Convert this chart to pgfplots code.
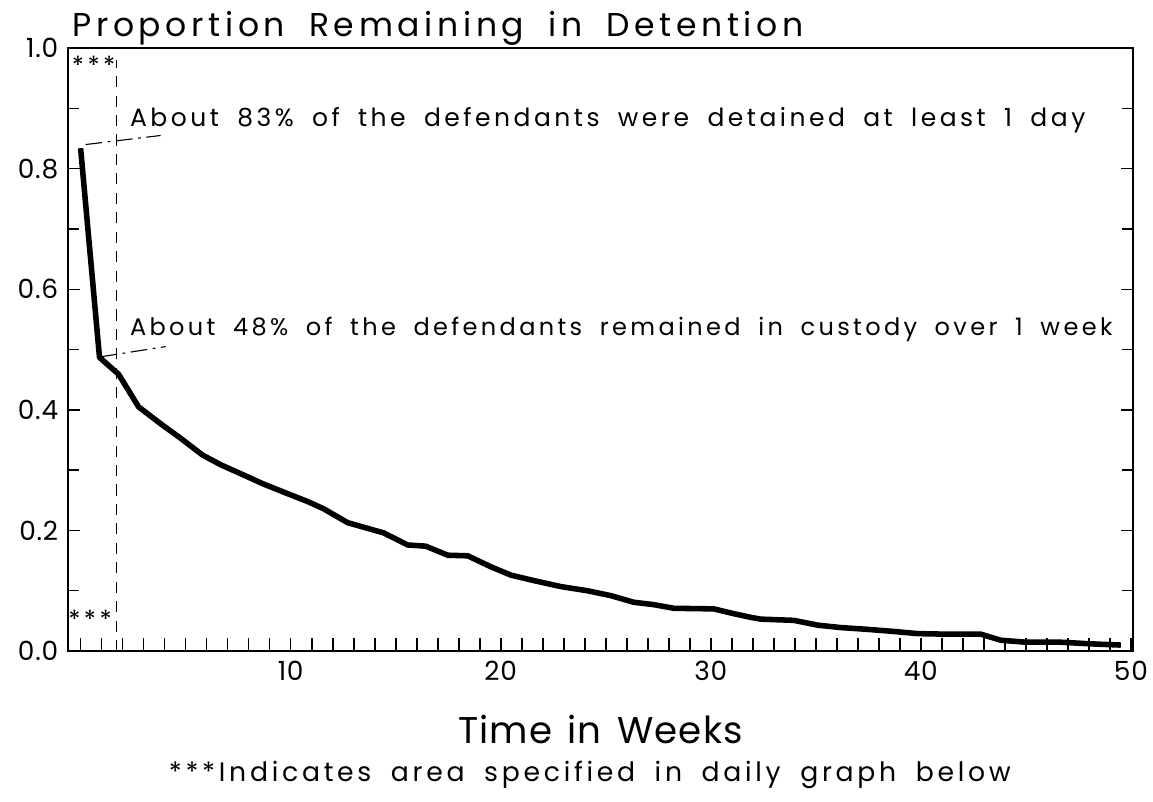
\documentclass[border=0pt]{standalone}
\usepackage{fontspec}
\setmainfont{Poppins}[LetterSpace=14, WordSpace=1.8]
\newfontfamily\lblfont{Poppins}[LetterSpace=3, WordSpace=1.4]
\usepackage{pgfplots}
\pgfplotsset{compat=1.18}
\begin{document}
\begin{tikzpicture}
\path[use as bounding box] (-24.48pt,-54pt) rectangle (390.6pt,234.4pt);
\begin{axis}[
  at={(0,0)}, anchor=south west,
  scale only axis, width=383.4pt, height=217.1pt,
  xmin=-0.6, xmax=50.1, ymin=0, ymax=1,
  xtick={10,20,30,40,50},
  ytick={0,0.2,0.4,0.6,0.8,1.0}, minor ytick={0.1,0.3,0.5,0.7,0.9},
  xtick pos=left, ytick pos=both, yticklabel pos=left,
  tick align=inside, major tick length=4.5pt, minor tick length=3.8pt,
  xtick style={line width=0.6pt, black},
  ytick style={line width=0.5pt, black},
  yticklabel style={/pgf/number format/fixed, /pgf/number format/fixed zerofill, /pgf/number format/precision=1},
  /pgf/number format/assume math mode=true,
  ticklabel style={font=\lblfont\fontsize{9.5}{10}\selectfont},
  axis line style={line width=0.6pt},
  xlabel={Time in Weeks},
  xlabel style={at={(axis description cs:0.5,0)}, anchor=center, yshift=-28.4pt, font=\lblfont\fontsize{13.4}{16}\selectfont},
  clip=false,
]
% weekly tick marks along the bottom axis
\addplot[ycomb, black, line width=0.6pt, no marks] coordinates {
(0,0.021) (1,0.021) (2,0.021) (3,0.021) (4,0.021) (5,0.021) (6,0.021) (7,0.021) (8,0.021) (9,0.021)
(10,0.021) (11,0.021) (12,0.021) (13,0.021) (14,0.021) (15,0.021) (16,0.021) (17,0.021) (18,0.021) (19,0.021)
(20,0.021) (21,0.021) (22,0.021) (23,0.021) (24,0.021) (25,0.021) (26,0.021) (27,0.021) (28,0.021) (29,0.021)
(30,0.021) (31,0.021) (32,0.021) (33,0.021) (34,0.021) (35,0.021) (36,0.021) (37,0.021) (38,0.021) (39,0.021)
(40,0.021) (41,0.021) (42,0.021) (43,0.021) (44,0.021) (45,0.021) (46,0.021) (47,0.021) (48,0.021) (49,0.021)
(50,0.021)
};
\addplot[black, line width=2pt, line join=round] coordinates {
(0.00,0.834) (0.90,0.487) (1.81,0.459) (2.76,0.405) (3.81,0.377) (4.76,0.353)
(5.81,0.325) (6.67,0.309) (7.76,0.292) (8.71,0.277) (9.86,0.261) (10.81,0.248)
(11.57,0.236) (12.71,0.213) (14.43,0.196) (15.57,0.176) (16.43,0.174) (17.48,0.159)
(18.43,0.158) (19.52,0.140) (20.48,0.126) (21.57,0.117) (22.86,0.107) (24.14,0.100)
(25.24,0.092) (26.33,0.081) (27.29,0.077) (28.24,0.071) (30.14,0.070) (31.10,0.062)
(31.90,0.056) (32.38,0.053) (33.95,0.051) (35.10,0.043) (36.19,0.039) (37.48,0.036)
(38.57,0.033) (39.86,0.029) (41.29,0.028) (42.86,0.028) (43.81,0.018) (44.90,0.015)
(46.52,0.015) (48.10,0.012) (49.52,0.010)
};
\draw[line width=0.5pt, dash pattern=on 4pt off 3pt] (axis cs:1.71,0) -- (axis cs:1.71,0.98);
\draw[line width=0.4pt, dash pattern=on 6pt off 2pt on 1pt off 2pt] (axis cs:0.24,0.840) -- (axis cs:3.81,0.855);
\draw[line width=0.4pt, dash pattern=on 6pt off 2pt on 1pt off 2pt] (axis cs:0.95,0.488) -- (axis cs:4.05,0.505);
\node[anchor=base west, font=\fontsize{9}{10}\selectfont, inner sep=0pt] at (axis cs:2.33,0.870) {About 83\% of the defendants were detained at least 1 day};
\node[anchor=base west, font=\fontsize{8.65}{10}\selectfont, inner sep=0pt] at (axis cs:2.33,0.524) {About 48\% of the defendants remained in custody over 1 week};
\node[font=\fontsize{9}{10}\selectfont, inner sep=0pt] at (axis cs:0.62,0.972) {***};
\node[font=\fontsize{9}{10}\selectfont, inner sep=0pt] at (axis cs:0.45,0.052) {***};
\node[anchor=base west, font=\fontsize{11.9}{13}\selectfont, inner sep=0pt] at (axis description cs:0,1) [xshift=1.4pt, yshift=4pt] {Proportion Remaining in Detention};
\node[font=\fontsize{9.6}{12}\selectfont, anchor=center] at (axis description cs:0.49,0) [yshift=-44.6pt] {***Indicates area specified in daily graph below};
\end{axis}
\end{tikzpicture}
\end{document}
